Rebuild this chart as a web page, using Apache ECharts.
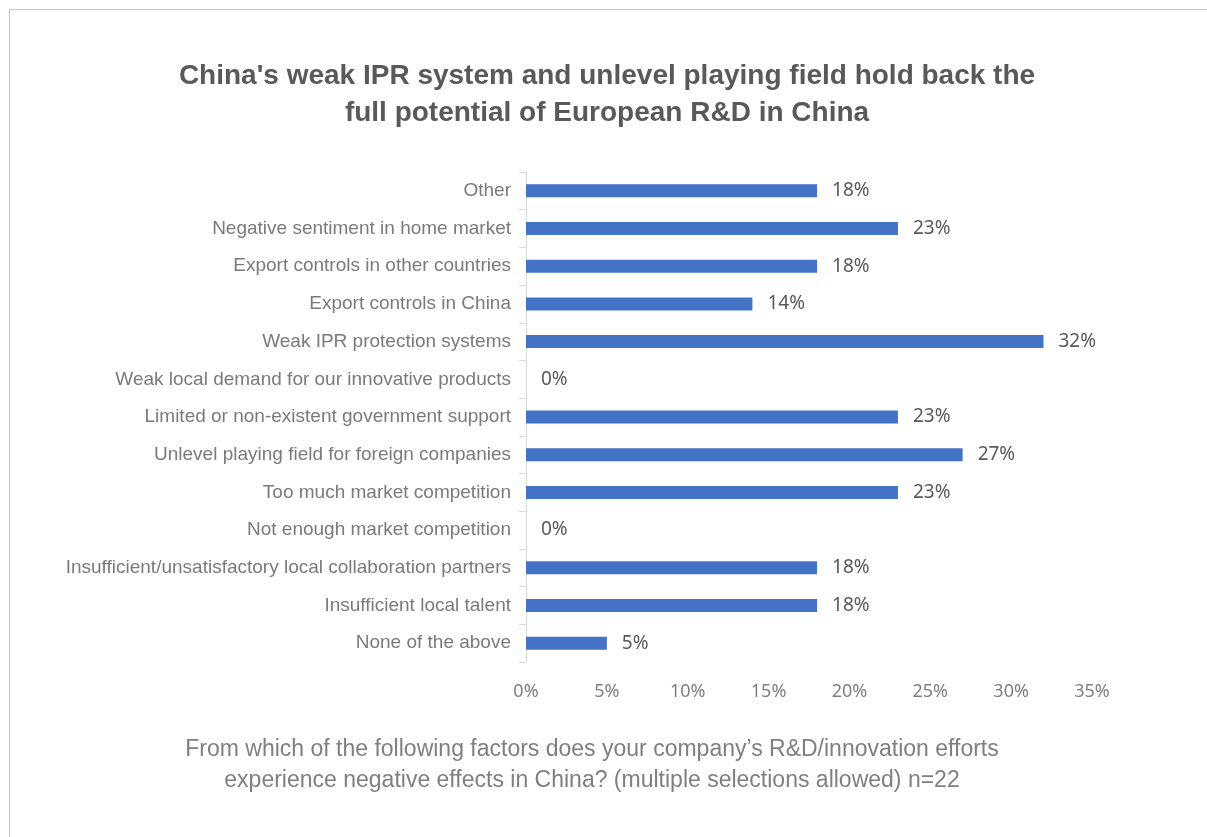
<!DOCTYPE html>
<html>
<head>
<meta charset="utf-8">
<script src="https://cdn.jsdelivr.net/npm/echarts@6/dist/echarts.min.js"></script>
<style>
  html, body { margin: 0; padding: 0; background: #ffffff; }
  #bar-chart { width: 1207px; height: 837px; }
</style>
</head>
<body>
<div id="bar-chart"></div>
<script>
// categories listed bottom to top (category axis draws first item at bottom)
const categories = [
  'None of the above',
  'Insufficient local talent',
  'Insufficient/unsatisfactory local collaboration partners',
  'Not enough market competition',
  'Too much market competition',
  'Unlevel playing field for foreign companies',
  'Limited or non-existent government support',
  'Weak local demand for our innovative products',
  'Weak IPR protection systems',
  'Export controls in China',
  'Export controls in other countries',
  'Negative sentiment in home market',
  'Other'
]
const shares = [5, 18, 18, 0, 23, 27, 23, 0, 32, 14, 18, 23, 18]
const tickLabels = ['0%', '5%', '10%', '15%', '20%', '25%', '30%', '35%']

const titleText = "China's weak IPR system and unlevel playing field hold back the\nfull potential of European R&D in China"
const noteText = 'From which of the following factors does your company\u2019s R&D/innovation efforts\nexperience negative effects in China? (multiple selections allowed) n=22'

let chart = echarts.init(document.getElementById('bar-chart'))

const option = {
  animation: false,
  title: [
    {
      text: titleText,
      left: 602,
      top: 53,
      textAlign: 'center',
      textStyle: {
        color: '#595959',
        fontFamily: 'Liberation Sans',
        fontWeight: 'bold',
        fontSize: 28,
        lineHeight: 37
      }
    },
    {
      text: noteText,
      left: 587,
      top: 729,
      textAlign: 'center',
      textStyle: {
        color: '#7f7f7f',
        fontFamily: 'Liberation Sans',
        fontWeight: 'normal',
        fontSize: 23,
        lineHeight: 31
      }
    }
  ],
  graphic: [
    {
      type: 'polyline',
      shape: { points: [[9.5, 837], [9.5, 9.5], [1207, 9.5]] },
      style: { stroke: '#b4c7e7', lineWidth: 1, fill: null }
    }
  ],
  grid: {
    left: 526,
    right: 115,
    top: 172,
    bottom: 175,
    containLabel: false
  },
  xAxis: {
    type: 'value',
    min: 0,
    max: 35,
    interval: 5,
    axisLine: { show: false },
    axisTick: { show: false },
    splitLine: { show: false },
    axisLabel: {
      margin: 21,
      color: '#7f7f7f',
      fontFamily: 'Noto Sans',
      fontSize: 18,
      formatter: (v) => tickLabels[Math.round(v / 5)]
    }
  },
  yAxis: {
    type: 'category',
    data: categories,
    axisLine: { show: true, lineStyle: { color: '#d9d9d9', width: 1 } },
    axisTick: { show: true, length: 7, lineStyle: { color: '#d9d9d9' } },
    axisLabel: {
      margin: 15,
      color: '#7a7a7a',
      fontFamily: 'Liberation Sans',
      fontSize: 19
    }
  },
  series: [
    {
      type: 'bar',
      data: shares,
      barWidth: 13,
      itemStyle: { color: '#4472c4' },
      label: {
        show: true,
        position: 'right',
        distance: 15,
        color: '#595959',
        fontFamily: 'Noto Sans',
        fontSize: 19,
        formatter: (p) => p.value + '%'
      }
    }
  ]
}

chart.setOption(option)
</script>
</body>
</html>
